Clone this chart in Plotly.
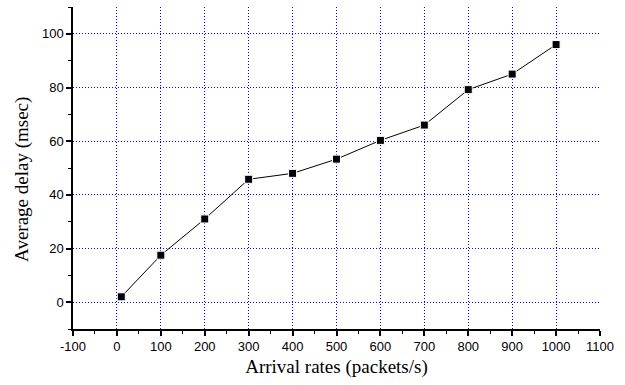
import plotly.graph_objects as go

arrival_rates = [10, 100, 200, 300, 400, 500, 600, 700, 800, 900, 1000]
avg_delay = [2.0, 17.5, 31.0, 45.8, 48.0, 53.3, 60.3, 66.0, 79.2, 85.0, 96.0]
x_ticks = [-100, 0, 100, 200, 300, 400, 500, 600, 700, 800, 900, 1000, 1100]
x_tick_labels = ["-100", "0", "100", "200", "300", "400", "500", "600", "700", "800", "900", "1000", "1100"]
y_ticks = [0, 20, 40, 60, 80, 100]

fig = go.Figure()
fig.add_trace(go.Scatter(
    x=arrival_rates, y=avg_delay, mode="lines+markers",
    line=dict(color="black", width=1),
    marker=dict(symbol="square", size=8, color="black", line=dict(color="white", width=1)),
    showlegend=False,
))

grid = dict(gridcolor="#0000ff", griddash="1px,2px", gridwidth=1)
fig.update_layout(
    width=625, height=385,
    margin=dict(l=73, r=25, t=7, b=56),
    paper_bgcolor="white", plot_bgcolor="white",
    xaxis=dict(
        range=[-100, 1100], tickmode="array", tickvals=x_ticks, ticktext=x_tick_labels,
        showline=True, linecolor="black", linewidth=1.5,
        ticks="outside", ticklen=5, tickwidth=1.5, tickcolor="black",
        minor=dict(dtick=50, tick0=0, ticks="outside", ticklen=3, tickcolor="black", tickwidth=1.2, showgrid=False),
        zeroline=False, showgrid=True, **grid,
        tickfont=dict(family="Liberation Sans, Arial", size=13, color="black"),
        title=dict(text="Arrival rates (packets/s)", font=dict(family="Liberation Serif, Times New Roman", size=19, color="black"), standoff=6),
    ),
    yaxis=dict(
        range=[-10, 110], tickmode="array", tickvals=y_ticks,
        showline=True, linecolor="black", linewidth=1.5,
        ticks="outside", ticklen=5, tickwidth=1.5, tickcolor="black",
        minor=dict(dtick=10, tick0=0, ticks="outside", ticklen=3, tickcolor="black", tickwidth=1.2, showgrid=False),
        zeroline=False, showgrid=True, **grid,
        tickfont=dict(family="Liberation Sans, Arial", size=13, color="black"),
    ),
    annotations=[dict(
        text="Average delay (msec)", textangle=-90,
        xref="paper", yref="paper", x=0, y=0.463, xanchor="center", yanchor="middle",
        xshift=-51, showarrow=False,
        font=dict(family="Liberation Serif, Times New Roman", size=19, color="black"),
    )],
)
fig.write_html("out.html")
